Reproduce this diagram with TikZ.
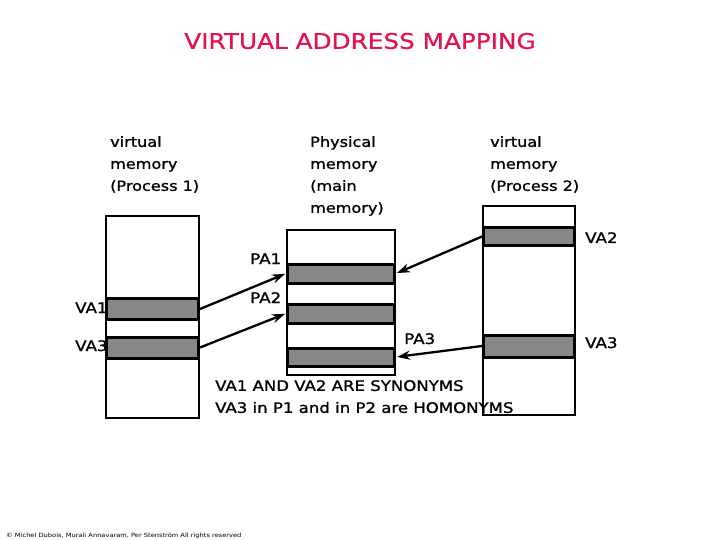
\documentclass[tikz,border=0pt]{standalone}
\usepackage{fontspec}
\setmainfont[FakeStretch=1.15,FakeBold=1.2]{DejaVu Sans}
\newfontfamily\titlefont[FakeStretch=1.15,FakeBold=0.8]{DejaVu Sans}
\newfontfamily\smallfont[FakeStretch=1.15]{DejaVu Sans}
\usetikzlibrary{arrows.meta}
\definecolor{titlered}{RGB}{228,18,78}
\definecolor{bandgray}{RGB}{135,135,135}
\tikzset{
  membox/.style={draw=black, line width=2.2pt, fill=white, minimum width=#1, inner sep=0pt},
  band/.style={draw=black, line width=3pt, fill=bandgray, inner sep=0pt, minimum height=#1},
  lbl/.style={font=\fontsize{14.5}{22}\selectfont, inner sep=0pt, anchor=base west},
  para/.style={font=\fontsize{14}{22}\selectfont, inner sep=0pt, anchor=north west, align=left},
  note/.style={font=\fontsize{14.4}{22}\selectfont, inner sep=0pt, anchor=north west, align=left},
  arr/.style={line width=2.3pt, -{Stealth[length=13pt,width=9pt]}, shorten >=1pt},
}
\begin{document}
\begin{tikzpicture}[x=1pt,y=-1pt]
\useasboundingbox (0,0) rectangle (720,540);
% title
\node[font=\titlefont\fontsize{21.5}{24}\selectfont, text=titlered, inner sep=0pt] (title) at (360,41) {VIRTUAL ADDRESS MAPPING};
% headings
\node[para] (h1) at (110,136) {virtual\\memory\\(Process 1)};
\node[para] (h2) at (310,136) {Physical\\memory\\(main\\memory)};
\node[para] (h3) at (490,136) {virtual\\memory\\(Process 2)};
% process 1
\node[membox=93pt, minimum height=202pt] (p1) at (152.5,317) {};
\node[band=21pt, minimum width=92pt] (va1) at (152.5,309) {};
\node[band=21pt, minimum width=92pt] (va3a) at (152.5,347.5) {};
% physical
\node[membox=108pt, minimum height=145pt] (pm) at (341,302.5) {};
\node[band=19pt, minimum width=107pt] (pa1) at (341,273.5) {};
\node[band=19pt, minimum width=107pt] (pa2) at (341,313.5) {};
\node[band=18pt, minimum width=107pt] (pa3) at (341,357) {};
% bottom text
\node[note] (note) at (215,380) {VA1 AND VA2 ARE SYNONYMS\\VA3 in P1 and in P2 are HOMONYMS};
% process 2
\node[membox=92pt, minimum height=209pt, fill=none] (p2) at (529,310.5) {};
\node[band=17pt, minimum width=91pt] (va2) at (529,236.5) {};
\node[band=22pt, minimum width=91pt] (va3b) at (529,346) {};
% labels
\node[lbl] (lva1) at (75,313) {VA1};
\node[lbl] (lva3a) at (75,351) {VA3};
\node[lbl] (lpa1) at (250,264) {PA1};
\node[lbl] (lpa2) at (250,303) {PA2};
\node[lbl] (lpa3) at (404,344) {PA3};
\node[lbl] (lva2) at (585,243) {VA2};
\node[lbl] (lva3b) at (585,348) {VA3};
% arrows
\draw[arr] (va1.east) -- (pa1.west);
\draw[arr] (va3a.east) -- (pa2.west);
\draw[arr] (va2.west) -- (pa1.east);
\draw[arr] (va3b.west) -- (pa3.east);
% copyright
\node[font=\smallfont\fontsize{5.8}{6}\selectfont, inner sep=0pt, anchor=base west] (copy) at (6,537) {\textcopyright{} Michel Dubois, Murali Annavaram, Per Stenstr\"om All rights reserved};
\end{tikzpicture}
\end{document}
